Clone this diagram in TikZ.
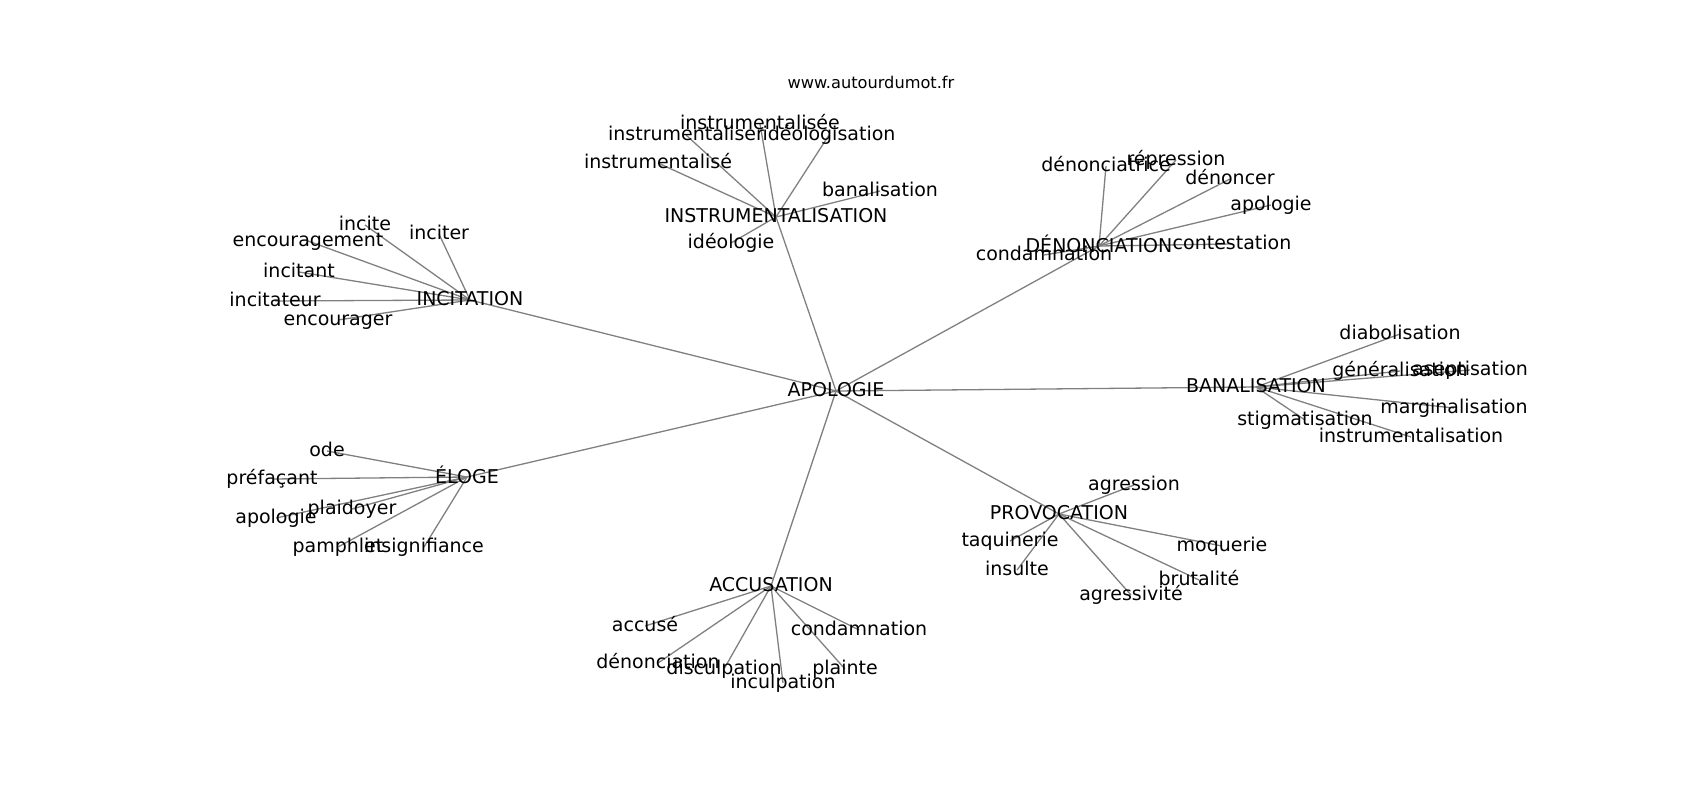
\documentclass[tikz,border=0pt]{standalone}
\usepackage{fontspec}
\setmainfont{DejaVu Sans}
\usetikzlibrary{backgrounds}
\definecolor{edgegray}{RGB}{128,128,128}
\tikzset{
  word/.style={inner sep=0pt, text height=14.44pt, text depth=3.95pt, anchor=center,
    font=\fontsize{19}{23}\selectfont},
  wordacc/.style={word, text height=17.63pt},
  link/.style={draw=edgegray, line width=1.3pt},
  sitetitle/.style={inner sep=0pt, anchor=base, font=\fontsize{16.2}{19}\selectfont}
}
\begin{document}
\begin{tikzpicture}[x=1pt, y=-1pt]
\useasboundingbox (0,0) rectangle (1700,800);
\node[sitetitle] (site) at (871,88.3) {www.autourdumot.fr};
% hubs
\node[word] (apo) at (836,391) {APOLOGIE};
\node[word] (ins) at (776,217) {INSTRUMENTALISATION};
\node[word] (inc) at (470,300) {INCITATION};
\node[wordacc] (den) at (1099,246) {DÉNONCIATION};
\node[word] (ban) at (1256,387) {BANALISATION};
\node[wordacc] (elo) at (467,477) {ÉLOGE};
\node[word] (acc) at (771,586) {ACCUSATION};
\node[word] (pro) at (1059,514) {PROVOCATION};
% INSTRUMENTALISATION
\node[word] (insee) at (760,124) {instrumentalisée};
\node[word] (inser) at (686,135) {instrumentaliser};
\node[word] (inse) at (658,163) {instrumentalisé};
\node[word] (ideolz) at (829,135) {idéologisation};
\node[word] (banal) at (880,191) {banalisation};
\node[word] (ideol) at (731,243) {idéologie};
% INCITATION
\node[word] (incite) at (365,225) {incite};
\node[word] (inciter) at (439,234) {inciter};
\node[word] (encment) at (308,241) {encouragement};
\node[word] (incitant) at (299,272) {incitant};
\node[word] (incitateur) at (275,301) {incitateur};
\node[word] (encager) at (338,320) {encourager};
% DENONCIATION
\node[word] (denc) at (1106,166) {dénonciatrice};
\node[word] (repr) at (1176,160) {répression};
\node[word] (denoncer) at (1230,179) {dénoncer};
\node[word] (apolA) at (1271,205) {apologie};
\node[word] (contest) at (1232,244) {contestation};
\node[word] (condA) at (1044,255) {condamnation};
% BANALISATION
\node[word] (diab) at (1400,334) {diabolisation};
\node[word] (gener) at (1400,371) {généralisation};
\node[word] (asep) at (1470,370) {aseptisation};
\node[word] (marg) at (1454,408) {marginalisation};
\node[word] (stig) at (1305,420) {stigmatisation};
\node[word] (instrB) at (1411,437) {instrumentalisation};
% ELOGE
\node[word] (ode) at (327,451) {ode};
\node[word] (pref) at (272,479) {préfaçant};
\node[word] (plaid) at (352,509) {plaidoyer};
\node[word] (apolB) at (276,518) {apologie};
\node[word] (pamph) at (338,547) {pamphlet};
\node[word] (insig) at (424,547) {insignifiance};
% ACCUSATION
\node[word] (accuse) at (645,626) {accusé};
\node[word] (condB) at (859,630) {condamnation};
\node[word] (denonc) at (658,663) {dénonciation};
\node[word] (discul) at (724,669) {disculpation};
\node[word] (incul) at (783,683) {inculpation};
\node[word] (plainte) at (845,669) {plainte};
% PROVOCATION
\node[word] (agression) at (1134,485) {agression};
\node[word] (taquin) at (1010,541) {taquinerie};
\node[word] (insulte) at (1017,570) {insulte};
\node[word] (moq) at (1222,546) {moquerie};
\node[word] (brut) at (1199,580) {brutalité};
\node[word] (agressiv) at (1131,595) {agressivité};
\begin{scope}[on background layer]
\foreach \h in {ins,inc,den,ban,elo,acc,pro}
  \draw[link] (apo.center) -- (\h.center);
\foreach \c in {insee,inser,inse,ideolz,banal,ideol}
  \draw[link] (ins.center) -- (\c.center);
\foreach \c in {incite,inciter,encment,incitant,incitateur,encager}
  \draw[link] (inc.center) -- (\c.center);
\foreach \c in {denc,repr,denoncer,apolA,contest,condA}
  \draw[link] (den.center) -- (\c.center);
\foreach \c in {diab,gener,asep,marg,stig,instrB}
  \draw[link] (ban.center) -- (\c.center);
\foreach \c in {ode,pref,plaid,apolB,pamph,insig}
  \draw[link] (elo.center) -- (\c.center);
\foreach \c in {accuse,condB,denonc,discul,incul,plainte}
  \draw[link] (acc.center) -- (\c.center);
\foreach \c in {agression,taquin,insulte,moq,brut,agressiv}
  \draw[link] (pro.center) -- (\c.center);
\end{scope}
\end{tikzpicture}
\end{document}
